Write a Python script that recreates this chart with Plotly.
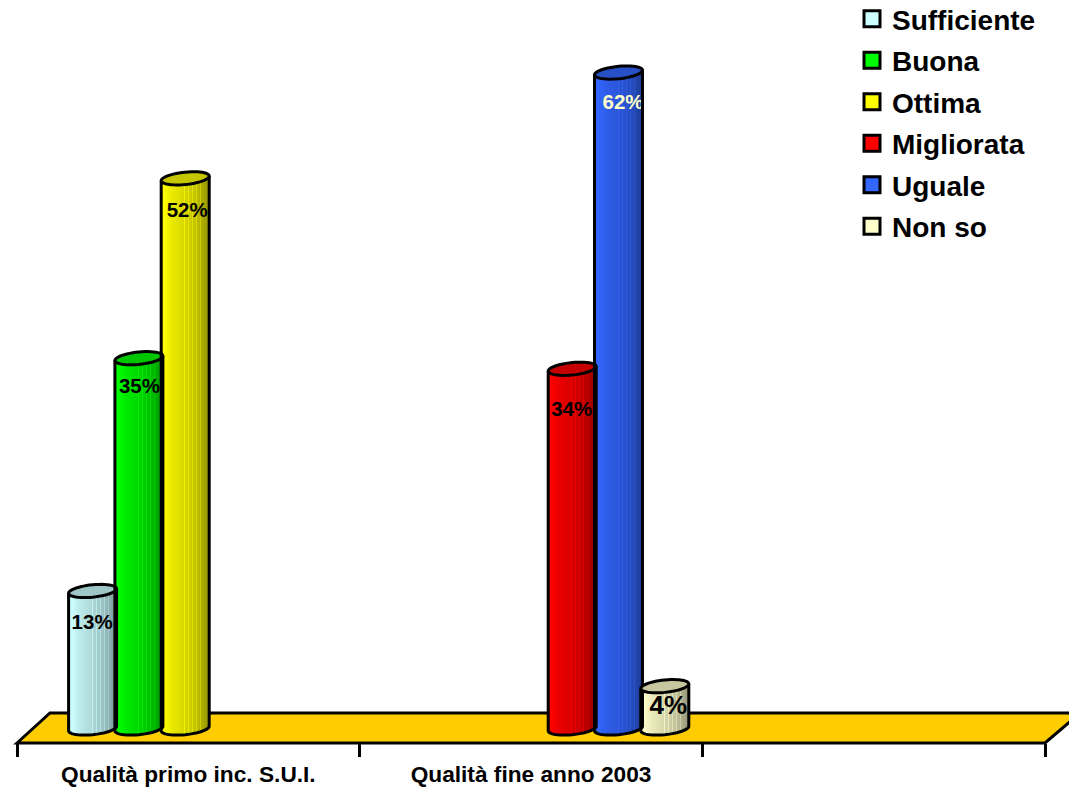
import math
import plotly.graph_objects as go

categories = ["Qualità primo inc. S.U.I.", "Qualità fine anno 2003", ""]
sufficiente = [13, None, None]
buona = [35, None, None]
ottima = [52, None, None]
migliorata = [None, 34, None]
uguale = [None, 62, None]
non_so = [None, 4, None]

series_names = ["Sufficiente", "Buona", "Ottima", "Migliorata", "Uguale", "Non so"]
series_values = [sufficiente, buona, ottima, migliorata, uguale, non_so]
series_colors = ["#CCFFFF", "#00FF00", "#FFFF00", "#FF0000", "#3366FF", "#FFFFCC"]
label_colors = ["#000000"] * 4 + ["#FFFFCC", "#000000"]
label_sizes = [20.5] * 5 + [26]
label_drop_px = [33, 30, 34, 42, 31, 21]
label_dx_px = [-0.5, 0.5, 2, -0.5, 4.5, 3.5]
group_dx_px = [2, 0, 0]

W, H = 1069, 791
CAT_PX = 342.7
X0_PX = 17.0          # left end of the axis
BASE_PX = 728.5       # pixel row of value 0
PX_PER_VAL = 10.58
SLOT_PX = 46.3
DEPTH_PX = 18.0
RAD_X = 24.0
RAD_Y = 6.2
SKEW = 2.3

x_lo = -0.5 - X0_PX / CAT_PX
x_hi = -0.5 + (W - X0_PX) / CAT_PX
y_hi = BASE_PX / PX_PER_VAL
y_lo = -(H - BASE_PX) / PX_PER_VAL


def dx(px):
    return px / CAT_PX


def dy(px):
    """pixel offset (downwards positive) to value offset"""
    return -px / PX_PER_VAL


def shade(hex_color, k):
    r, g, b = (int(hex_color[i:i + 2], 16) for i in (1, 3, 5))
    return "rgb(%d,%d,%d)" % (r * k, g * k, b * k)


def strip_factor(t):
    stops = [(0, 0.98), (0.08, 1.0), (0.25, 0.92), (0.5, 0.85), (0.75, 0.76), (1, 0.6)]
    for (a, fa), (b, fb) in zip(stops, stops[1:]):
        if t <= b:
            f = fa + (fb - fa) * (t - a) / (b - a)
            break
    # the faint pale streaks of the original gradient
    if 0.5 < t < 0.85 and int(t * 48) % 4 == 0:
        f = min(1, f + 0.1)
    return f


fig = go.Figure()
shapes = []

# Floor
fx = lambda px: x_lo + px / CAT_PX
fy = lambda px: y_hi - px / PX_PER_VAL
shapes.append(dict(
    type="path", layer="below", xref="x", yref="y",
    path="M %f %f L %f %f L %f %f L %f %f Z" % (
        fx(17), fy(743), fx(50), fy(713), fx(1080), fy(713), fx(1045), fy(743)),
    fillcolor="#FFCC00", line=dict(color="#000000", width=3)))

N = 48
for s, (name, vals, col) in enumerate(zip(series_names, series_values, series_colors)):
    for c, v in enumerate(vals):
        if v is None:
            continue
        cx = c + dx((s - 2.5) * SLOT_PX + DEPTH_PX + group_dx_px[c])
        xs, tops, bases, cols = [], [], [], []
        for i in range(N):
            t = (i + 0.5) / N
            off = (2 * t - 1)
            arc = math.sqrt(max(0, 1 - off * off))
            xs.append(cx + dx(off * RAD_X))
            skew = -SKEW * off
            tops.append(dy(skew) + v)
            bases.append(dy(skew + RAD_Y * arc))
            cols.append(shade(col, strip_factor(t)))
        fig.add_trace(go.Bar(
            x=xs, y=[a - b for a, b in zip(tops, bases)], base=bases,
            width=dx(RAD_X * 2 / N + 0.6),
            marker=dict(color=cols, line=dict(width=0)),
            showlegend=False, hoverinfo="skip"))

        # outline of the body and the top ellipse
        def pt(a, level, ry=RAD_Y):
            co, si = math.cos(a), math.sin(a)
            px_x = RAD_X * co
            px_y = ry * si - SKEW * co
            return cx + dx(px_x), level + dy(px_y)

        body = [pt(math.pi + (k / 24) * -math.pi, 0) for k in range(25)]
        p = "M %f %f " % pt(math.pi, v) + "".join("L %f %f " % q for q in body) + "L %f %f" % pt(0, v)
        shapes.append(dict(type="path", xref="x", yref="y", path=p,
                           line=dict(color="#000000", width=3)))
        ring = [pt(2 * math.pi * k / 48, v) for k in range(48)]
        p = "M %f %f " % ring[0] + "".join("L %f %f " % q for q in ring[1:]) + "Z"
        shapes.append(dict(type="path", xref="x", yref="y", path=p,
                           fillcolor=shade(col, 0.78),
                           line=dict(color="#000000", width=3)))

# data labels
for s, (name, vals) in enumerate(zip(series_names, series_values)):
    for c, v in enumerate(vals):
        if v is None:
            continue
        cx = c + dx((s - 2.5) * SLOT_PX + DEPTH_PX + group_dx_px[c] + label_dx_px[s])
        fig.add_trace(go.Scatter(
            x=[cx], y=[v + dy(label_drop_px[s])], mode="text",
            text=["%d%%" % v], textposition="middle center",
            textfont=dict(family="Liberation Sans", size=label_sizes[s], color=label_colors[s],
                          weight="bold"),
            showlegend=False, hoverinfo="skip"))

# legend entries
for name, col in zip(series_names, series_colors):
    fig.add_trace(go.Scatter(
        x=[None], y=[None], mode="markers", name=name, legendgroup=name,
        marker=dict(symbol="square", size=16, color=col, line=dict(color="#000000", width=3))))

fig.update_layout(
    width=W, height=H, autosize=False,
    margin=dict(l=0, r=0, t=0, b=0, autoexpand=False),
    paper_bgcolor="#FFFFFF", plot_bgcolor="#FFFFFF",
    barmode="overlay",
    shapes=shapes,
    legend=dict(x=852 / W, y=1 + 6 / H, xanchor="left", yanchor="top",
                bgcolor="rgba(0,0,0,0)", tracegroupgap=2.1,
                font=dict(family="Liberation Sans", size=28, color="#000000", weight="bold")),
    xaxis=dict(
        range=[x_lo, x_hi], domain=[0, 1], anchor="free", position=(H - 743) / H,
        showgrid=False, zeroline=False, showline=False,
        tickmode="array", tickvals=[0, 1, 2], ticktext=categories, ticks="",
        ticklabelstandoff=15,
        tickfont=dict(family="Liberation Sans", size=22.7, color="#000000", weight="bold"),
        minor=dict(tickmode="array", tickvals=[-0.5, 0.5, 1.5, 2.5], ticks="outside",
                   ticklen=13, tickwidth=2.5, tickcolor="#000000", showgrid=False),
    ),
    yaxis=dict(range=[y_lo, y_hi], domain=[0, 1], visible=False),
    showlegend=True,
)

fig.write_html("out.html", config=dict(displayModeBar=False),
               post_script="document.body.style.margin='0';document.documentElement.style.overflow='hidden';")
